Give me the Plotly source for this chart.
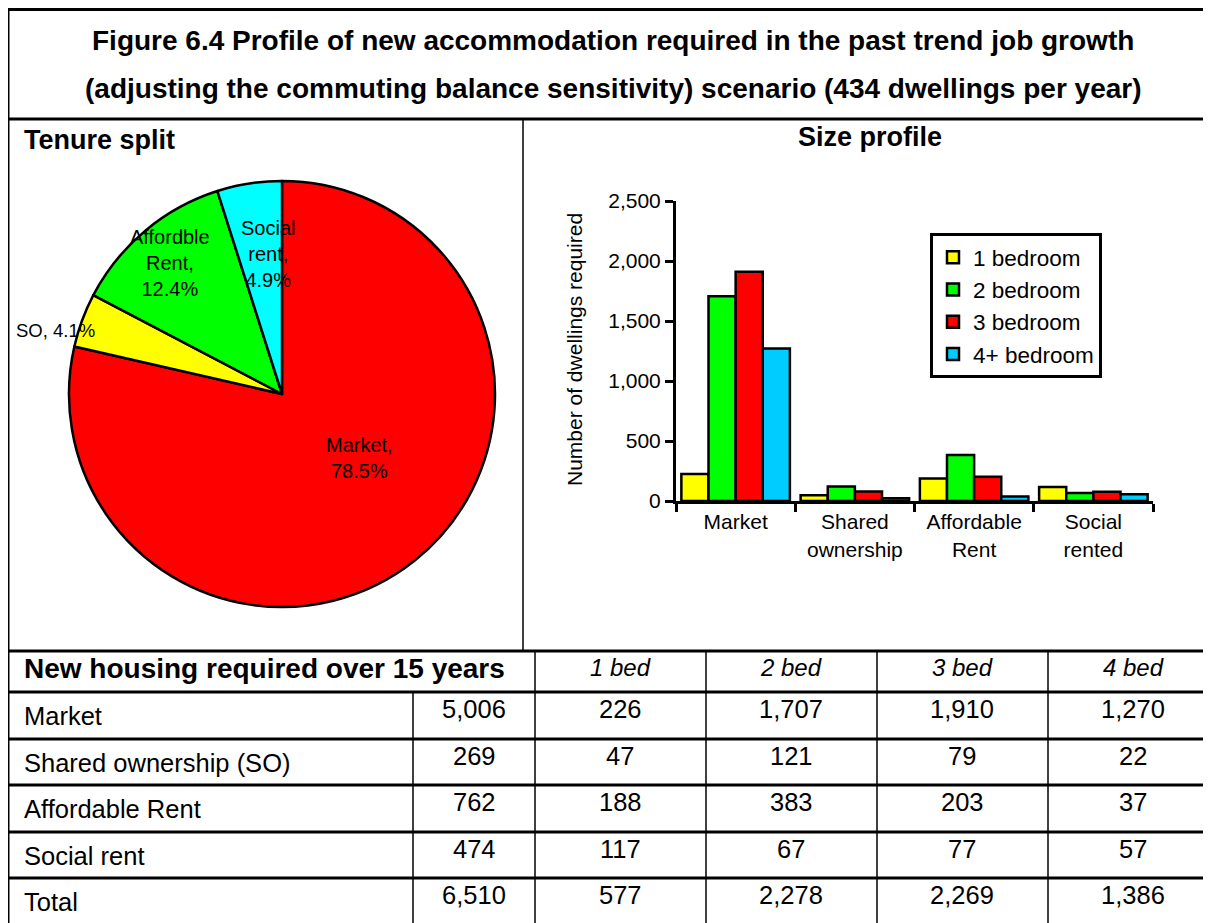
import plotly.graph_objects as go

W, H = 1211, 923
OFF = 8  # page offset of the figure inside the browser page

# ---------------- data ----------------
title_lines = [
    "Figure 6.4 Profile of new accommodation required in the past trend job growth",
    "(adjusting the commuting balance sensitivity) scenario (434 dwellings per year)",
]
pie_labels = ["Market", "Shared ownership (SO)", "Affordble Rent", "Social rent"]
pie_pct = [78.5, 4.1, 12.4, 4.9]
pie_texts = ["Market,<br>78.5%", "SO, 4.1%", "Affordble<br>Rent,<br>12.4%", "Social<br>rent,<br>4.9%"]
pie_colors = ["#FF0000", "#FFFF00", "#00FF00", "#00FFFF"]

bar_categories = ["Market", "Shared<br>ownership", "Affordable<br>Rent", "Social<br>rented"]
one_bed = [226, 47, 188, 117]
two_bed = [1707, 121, 383, 67]
three_bed = [1910, 79, 203, 77]
four_bed = [1270, 22, 37, 57]
bar_series_names = ["1 bedroom", "2 bedroom", "3 bedroom", "4+ bedroom"]
bar_colors = ["#FFFF00", "#00FF00", "#FF0000", "#00CCFF"]

table_title = "New housing required over 15 years"
table_cols = ["1 bed", "2 bed", "3 bed", "4 bed"]
table_rows = ["Market", "Shared ownership (SO)", "Affordable Rent", "Social rent", "Total"]
table_totals = ["5,006", "269", "762", "474", "6,510"]
table_1bed = ["226", "47", "188", "117", "577"]
table_2bed = ["1,707", "121", "383", "67", "2,278"]
table_3bed = ["1,910", "79", "203", "77", "2,269"]
table_4bed = ["1,270", "22", "37", "57", "1,386"]

# ---------------- helpers ----------------
def px(x):
    return (x - OFF) / W

def py(y):
    return 1 - (y - OFF) / H

FONT = "Liberation Sans, Arial, sans-serif"

fig = go.Figure()

# pie
fig.add_trace(go.Pie(
    labels=pie_labels, values=pie_pct, sort=False, direction="clockwise", rotation=0,
    marker=dict(colors=pie_colors, line=dict(color="black", width=2.5)),
    textinfo="none", hoverinfo="label+percent", showlegend=False,
    domain=dict(x=[px(69), px(495)], y=[py(607), py(181)]),
))

# bars
for name, vals, col in zip(bar_series_names, [one_bed, two_bed, three_bed, four_bed], bar_colors):
    fig.add_trace(go.Bar(
        x=bar_categories, y=vals, name=name,
        marker=dict(color=col, line=dict(color="black", width=2.5)),
        xaxis="x", yaxis="y",
    ))

annotations = []
def ann(x, y, text, size, anchor="center", bold=False, italic=False, angle=0):
    if bold:
        text = "<b>%s</b>" % text
    if italic:
        text = "<i>%s</i>" % text
    annotations.append(dict(x=px(x), y=py(y), text=text, showarrow=False, xref="paper", yref="paper",
                            xanchor=anchor, yanchor="middle", align="center", textangle=angle,
                            font=dict(family=FONT, size=size, color="black")))

# title
ann(613, 40, title_lines[0], 28, bold=True)
ann(613, 88, title_lines[1], 28, bold=True)
# panel titles
ann(22, 140, "Tenure split", 27, anchor="left", bold=True)
ann(870, 137, "Size profile", 27, bold=True)
# pie labels
pie_label_pos = [(359, 458, "center"), (14, 331, "left"), (170, 263, "center"), (268, 254, "center")]
pie_label_sizes = [20, 18.5, 20, 20]
for t, (lx, ly, anc), sz in zip(pie_texts, pie_label_pos, pie_label_sizes):
    ann(lx, ly, t, sz, anchor=anc)
# y axis title
ann(574, 350, "Number of dwellings required", 21, angle=-90)

# table text
ann(22, 668, table_title, 28, anchor="left", bold=True)
col_centers = [620, 791, 962, 1133]
for c, cx in zip(table_cols, col_centers):
    ann(cx, 667, c, 24, italic=True)
row_tops = [692, 739, 785, 832, 878]
cols_data = [table_totals, table_1bed, table_2bed, table_3bed, table_4bed]
num_centers = [474] + col_centers
for i, (lab, top) in enumerate(zip(table_rows, row_tops)):
    ann(22, top + 24, lab, 25.5, anchor="left")
    for col, cx in zip(cols_data, num_centers):
        ann(cx, top + 17, col[i], 25.5)

# border lines
shapes = []
def line(x0, y0, x1, y1, w):
    shapes.append(dict(type="line", xref="paper", yref="paper", x0=px(x0), y0=py(y0), x1=px(x1), y1=py(y1),
                       line=dict(color="black", width=w)))

line(8, 9.5, W + 20, 9.5, 3)
line(8.75, 8, 8.75, H + 20, 1.5)
line(8, 119, W + 20, 119, 3)
line(523, 119, 523, 651, 1.5)
for yy in [651, 692, 739, 785, 832, 878]:
    line(8, yy, W + 20, yy, 3)
line(413, 692, 413, H + 20, 1.5)
for xx in [535, 706, 877, 1048]:
    line(xx, 651, xx, H + 20, 1.5)

fig.update_layout(
    width=W, height=H, margin=dict(l=0, r=0, t=0, b=0, pad=0, autoexpand=False),
    paper_bgcolor="white", plot_bgcolor="white",
    font=dict(family=FONT, size=21, color="black"),
    barmode="group", bargap=0.09, bargroupgap=0,
    xaxis=dict(domain=[px(676), px(1153)], type="category", showline=True, linecolor="black", linewidth=3,
               ticks="outside", tickson="boundaries", ticklen=8, tickwidth=2.5, tickcolor="black",
               showgrid=False, zeroline=False, tickfont=dict(size=21), fixedrange=True, automargin=False),
    yaxis=dict(domain=[py(501), py(201)], range=[0, 2500], dtick=500, tickformat=",",
               showline=True, linecolor="black", linewidth=3, ticks="outside", ticklen=8, tickwidth=2.5,
               tickcolor="black", showgrid=False, zeroline=False, tickfont=dict(size=21), fixedrange=True,
               automargin=False),
    legend=dict(x=px(930), y=py(233), xanchor="left", yanchor="top", bordercolor="black", borderwidth=3,
                bgcolor="white", font=dict(size=22.5), itemclick=False, itemdoubleclick=False),
    annotations=annotations, shapes=shapes,
)

fig.write_html("out.html")
